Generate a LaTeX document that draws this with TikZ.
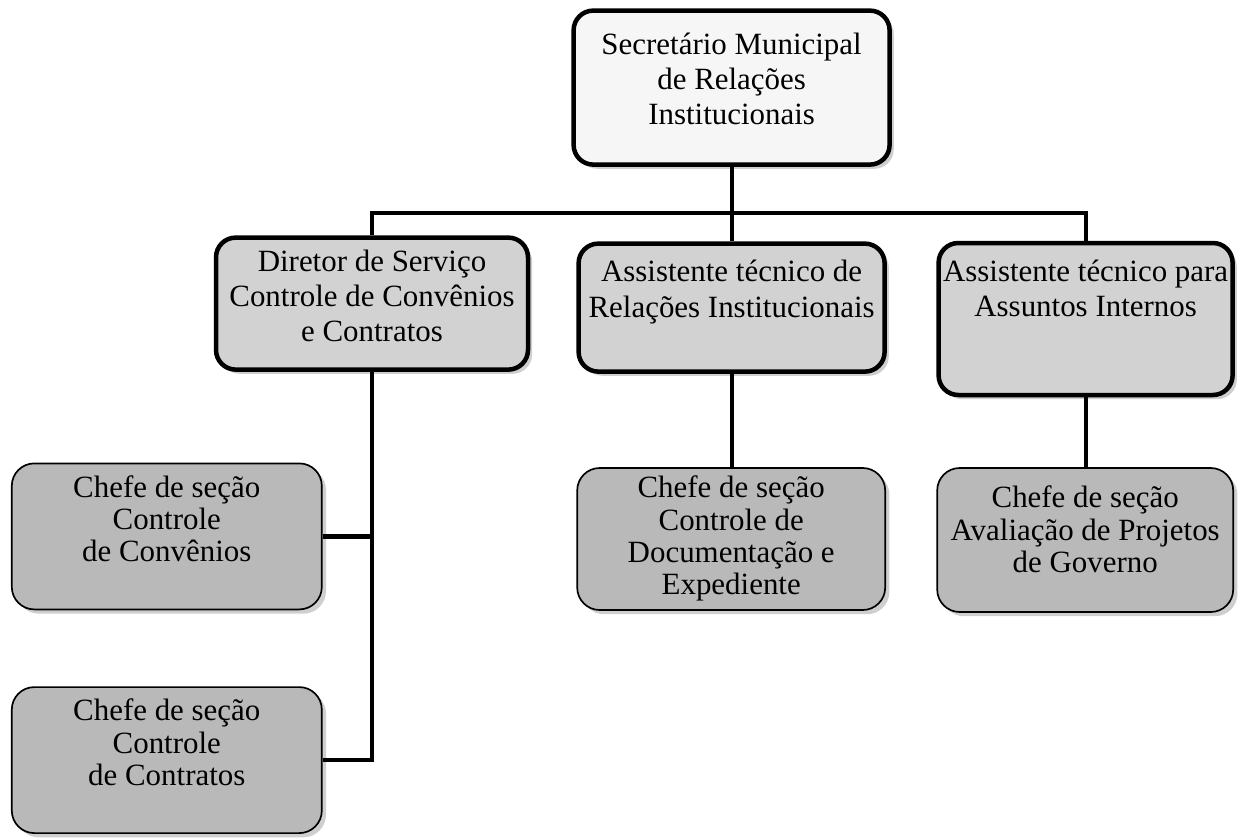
\documentclass[tikz,border=0pt]{standalone}
\usepackage{fontspec}
\setmainfont{Liberation Serif}
\usepackage{tikz}
\usetikzlibrary{shadows,positioning}
\definecolor{grayi}{RGB}{246,246,246}
\definecolor{grayii}{RGB}{210,210,210}
\definecolor{grayiii}{RGB}{185,185,185}
\definecolor{grayiv}{RGB}{160,160,160}
\newcommand{\textobox}[4]{\parbox[c][#2][t]{#1}{\vspace*{#3}\centering #4\par}}
\tikzset{
      myboxblock/.style={
        draw,
        fill=#1,
        line width=3.2pt,
        rounded corners=14pt,
        inner sep=0pt,
        font=\fontsize{22}{25}\selectfont,
        drop shadow={shadow xshift=3pt,shadow yshift=-3pt,fill=grayiv}
      },
      mychefblock/.style={
        draw,
        fill=#1,
        line width=1.2pt,
        rounded corners=16pt,
        inner sep=0pt,
        font=\fontsize{22}{23}\selectfont,
        drop shadow={shadow xshift=3pt,shadow yshift=-3pt,fill=grayiv}
      },
      myline/.style={
        line width=3pt
      },
    }
\begin{document}
\begin{tikzpicture}[node distance=1.9cm]
            \useasboundingbox (0,0) rectangle (30.95,-20.975);

            %Secretario
            \node[myboxblock=grayi] (secretario) at (18.29,-2.19)
              {\textobox{7.9cm}{3.85cm}{0.55cm}{Secretário Municipal\\de Relações\\Institucionais}};

            %Diretor e assistentes
            \node[myboxblock=grayii] (diretor) at (9.3,-7.59)
              {\textobox{7.8cm}{3.3cm}{0.3cm}{Diretor de Serviço\\Controle de Convênios\\e Contratos}};
            \node[myboxblock=grayii] (assistRelacoes) at (18.29,-7.69)
              {\textobox{7.65cm}{3.2cm}{0.42cm}{Assistente técnico de\\Relações Institucionais}};
            \node[myboxblock=grayii] (assistInternos) at (27.14,-7.975)
              {\textobox{7.35cm}{3.8cm}{0.42cm}{Assistente técnico para\\Assuntos Internos}};

            %Chefes de secao
            \node[mychefblock=grayiii] (chefeConvenios) at (4.17,-13.41)
              {\textobox{7.75cm}{3.65cm}{0.3cm}{Chefe de seção\\Controle\\de Convênios}};
            \node[mychefblock=grayiii,below=of chefeConvenios] (chefeContratos)
              {\textobox{7.75cm}{3.65cm}{0.3cm}{Chefe de seção\\Controle\\de Contratos}};
            \node[mychefblock=grayiii] (chefeDocumentacao) at (18.28,-13.475)
              {\textobox{7.7cm}{3.55cm}{0.2cm}{Chefe de seção\\Controle de\\Documentação e\\Expediente}};
            \node[mychefblock=grayiii] (chefeProjetos) at (27.13,-13.5)
              {\textobox{7.4cm}{3.6cm}{0.45cm}{Chefe de seção\\Avaliação de Projetos\\de Governo}};

            \coordinate (barra) at (18.29,-5.325);
            \draw[myline] (secretario.south) -- (barra);
            \draw[myline] (diretor.north) |- (barra) -| (assistInternos.north);
            \draw[myline] (barra) -- (assistRelacoes.north);
            \draw[myline] (diretor.south) |- (chefeContratos.east);
            \draw[myline] (chefeConvenios.east) -- (chefeConvenios.east -| diretor.south);
            \draw[myline] (assistRelacoes.south) -- (assistRelacoes.south |- chefeDocumentacao.north);
            \draw[myline] (assistInternos.south) -- (assistInternos.south |- chefeProjetos.north);

          \end{tikzpicture}
\end{document}
